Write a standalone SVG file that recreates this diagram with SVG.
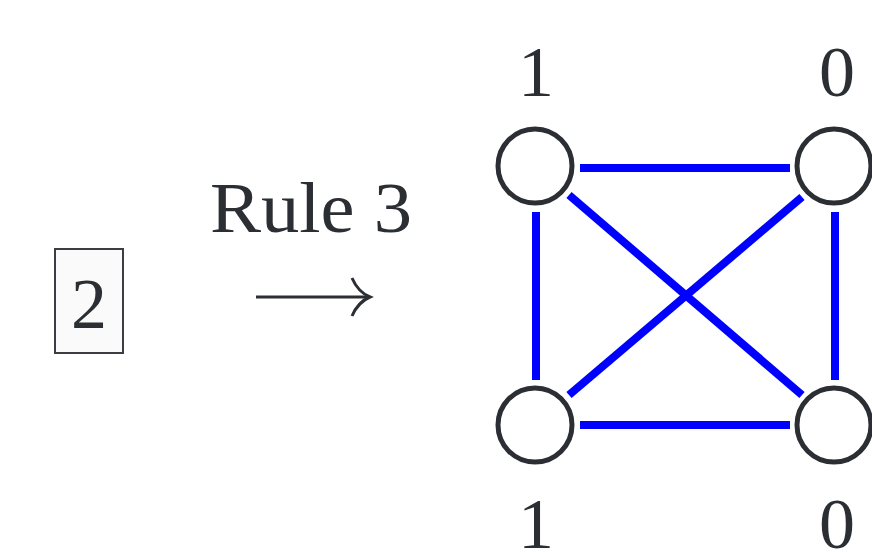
<svg xmlns="http://www.w3.org/2000/svg" width="872" height="558" viewBox="0 0 872 558">
<style>
.t{font-family:"Liberation Serif","DejaVu Serif",serif;fill:#2b2f33;font-size:72px;text-anchor:middle}
.n{fill:#ffffff;stroke:#2b2f33;stroke-width:5}
.e{stroke:#0000ff;stroke-width:8;fill:none}
</style>
<rect width="872" height="558" fill="#ffffff"/>
<g id="box">
<rect x="55" y="249" width="68" height="104" fill="#fafafa" stroke="#3a3e42" stroke-width="2"/>
<text class="t" x="89" y="328">2</text>
</g>
<g id="rule">
<text class="t" x="311" y="232" textLength="202" lengthAdjust="spacingAndGlyphs">Rule 3</text>
<path d="M256 297 H369" stroke="#2b2f33" stroke-width="3" fill="none"/>
<path d="M352 278 Q358 292 370 297 Q358 302 352 316" stroke="#2b2f33" stroke-width="3" fill="none"/>
</g>
<g id="edges">
<line class="e" x1="580" y1="168" x2="790" y2="168"/>
<line class="e" x1="580" y1="425" x2="790" y2="425"/>
<line class="e" x1="536" y1="212" x2="536" y2="380"/>
<line class="e" x1="835" y1="212" x2="835" y2="380"/>
<line class="e" x1="569" y1="195" x2="802" y2="395"/>
<line class="e" x1="802" y1="197" x2="569" y2="395"/>
</g>
<g id="n1"><circle class="n" cx="535" cy="166" r="37"/><text class="t" x="536" y="96">1</text></g>
<g id="n2"><circle class="n" cx="834" cy="166" r="37"/><text class="t" x="837" y="96">0</text></g>
<g id="n3"><circle class="n" cx="535" cy="425" r="37"/><text class="t" x="536" y="548">1</text></g>
<g id="n4"><circle class="n" cx="834" cy="425" r="37"/><text class="t" x="837" y="548">0</text></g>
</svg>
